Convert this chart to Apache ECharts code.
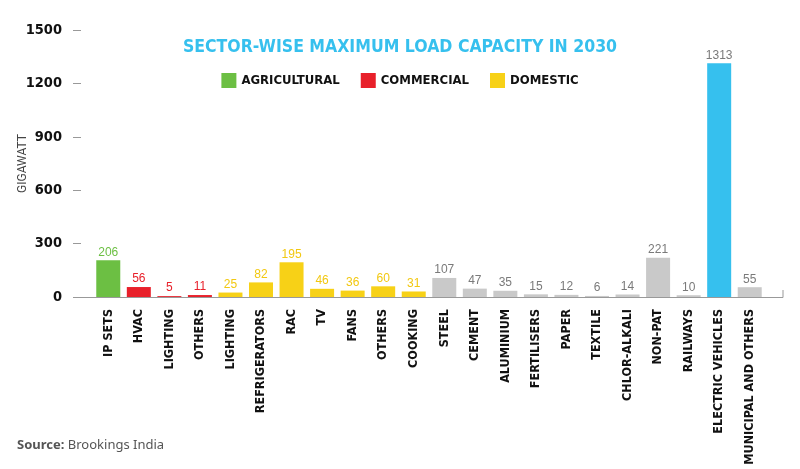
<!DOCTYPE html>
<html><head><meta charset="utf-8">
<script src="https://cdn.jsdelivr.net/npm/echarts@6/dist/echarts.min.js"></script>
<style>html,body{margin:0;padding:0;background:#fff}#c{width:800px;height:469px}</style>
</head><body><div id="c"></div>
<script>
const categories = ["IP SETS","HVAC","LIGHTING","OTHERS","LIGHTING","REFRIGERATORS","RAC","TV","FANS","OTHERS","COOKING","STEEL","CEMENT","ALUMINIUM","FERTILISERS","PAPER","TEXTILE","CHLOR-ALKALI","NON-PAT","RAILWAYS","ELECTRIC VEHICLES","MUNICIPAL AND OTHERS"];
const values = [206,56,5,11,25,82,195,46,36,60,31,107,47,35,15,12,6,14,221,10,1313,55];
const groups = ["agri","com","com","com","dom","dom","dom","dom","dom","dom","dom","ind","ind","ind","ind","ind","ind","ind","ind","ind","ev","ind"];
const seriesDefs = [
  {key:"agri", name:"AGRICULTURAL", color:"#6cbf43", label:"#6cbf43"},
  {key:"com", name:"COMMERCIAL", color:"#e8202a", label:"#e8202a"},
  {key:"dom", name:"DOMESTIC", color:"#f7d117", label:"#f2c811"},
  {key:"ind", name:"INDUSTRY", color:"#c9c9c9", label:"#7a7a7a"},
  {key:"ev", name:"EV", color:"#36c0ee", label:"#7a7a7a"}
];
const yTicks = [0,300,600,900,1200,1500];

const chart = echarts.init(document.getElementById('c'));
const cond = '"Liberation Sans Narrow", "Arial Narrow", "DejaVu Sans Condensed", sans-serif';
chart.setOption({
  animation:false,
  title:{text:"SECTOR-WISE MAXIMUM LOAD CAPACITY IN 2030", left:'center', top:33,
    textStyle:{fontFamily:cond, fontWeight:'bold', fontSize:17.5, color:'#36c0ee'}},
  legend:{data:seriesDefs.slice(0,3).map(s=>s.name), top:68, left:'center', itemWidth:15, itemHeight:15, itemGap:21,
    icon:'rect', textStyle:{fontFamily:cond, fontWeight:'bold', fontSize:13, color:'#111'}},
  grid:{left:93, right:35, top:30, bottom:172, containLabel:false, outerBoundsMode:'none'},
  xAxis:{type:'category', data:categories,
    axisLine:{lineStyle:{color:'#999'}}, axisTick:{show:false},
    axisLabel:{rotate:90, interval:0, margin:12, fontFamily:cond, fontWeight:'bold', fontSize:12.5, color:'#111'}},
  yAxis:{type:'value', min:yTicks[0], max:yTicks[yTicks.length-1], interval:300, offset:20,
    name:'GIGAWATT', nameLocation:'middle', nameGap:44, nameMoveOverlap:false,
    nameTextStyle:{fontFamily:'Roboto, sans-serif', fontSize:12, color:'#444'},
    splitLine:{show:false}, axisLine:{show:false},
    axisTick:{show:true, inside:true, length:8, lineStyle:{color:'#999'}},
    axisLabel:{margin:11, formatter:v=>String(v), fontFamily:cond, fontWeight:'bold', fontSize:14.5, color:'#111'}},
  graphic:[
    {type:'line', shape:{x1:73,y1:297.5,x2:783,y2:297.5}, style:{stroke:'#999', lineWidth:1}, z:0},
    {type:'line', shape:{x1:783,y1:290,x2:783,y2:297.5}, style:{stroke:'#999', lineWidth:1}, z:0},
    {type:'text', left:17, top:439, style:{text:'{b|Source:} Brookings India', rich:{b:{fontWeight:'bold', fontFamily:'"Noto Sans", sans-serif', fontSize:13, fill:'#555'}}, fontFamily:'"Noto Sans", sans-serif', fontSize:13, fill:'#555'}}
  ],
  series: seriesDefs.map(s=>({
    name:s.name, type:'bar', stack:'all', barWidth:24,
    itemStyle:{color:s.color},
    label:{show:true, position:'top', distance:2, color:s.label, fontFamily:'"Liberation Sans", Arial, sans-serif', fontSize:12},
    data: values.map((v,i)=> groups[i]===s.key ? v : null)
  }))
});
</script></body></html>
